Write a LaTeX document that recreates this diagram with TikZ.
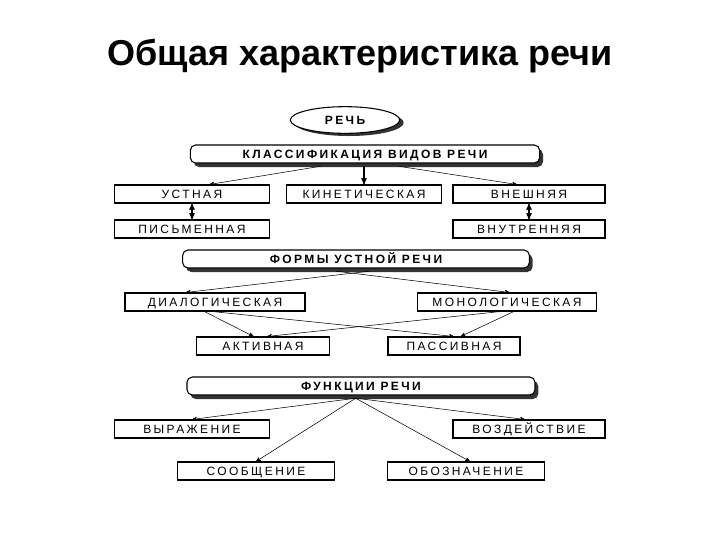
\documentclass[tikz,border=0pt]{standalone}
\usepackage{fontspec}
\setmainfont{Liberation Sans}
\usetikzlibrary{arrows,shapes,shadows}
\newfontfamily\boxfont[LetterSpace=20]{Liberation Sans}
\tikzstyle{obox}=[rectangle,draw=black,thick,minimum width=116pt,minimum height=13.5pt,inner sep=1pt,text height=6.5pt,text depth=0.5pt,font=\boxfont\fontsize{9}{10}\selectfont]
\tikzstyle{hbox}=[rectangle,rounded corners=4pt,draw=black,thick,fill=white,minimum height=13.5pt,inner sep=1pt,text height=6.5pt,text depth=0.5pt,font=\boxfont\bfseries\fontsize{9}{10}\selectfont,drop shadow={shadow xshift=2.5pt,shadow yshift=-3pt,fill=black!80,opacity=1}]
\tikzstyle{dgraph}=[->,>=stealth',thin]

\begin{document}
\begin{tikzpicture}[x=0.75pt,y=-0.75pt,dgraph]
\useasboundingbox (0,0) rectangle (720,540);
\node[font=\bfseries\fontsize{27}{30}\selectfont] (title) at (360,56) {Общая характеристика речи};
\node[ellipse,draw=black,thick,fill=white,minimum width=82pt,minimum height=20pt,text height=6.5pt,text depth=0.5pt,font=\boxfont\bfseries\fontsize{9}{10}\selectfont,drop shadow={shadow xshift=3pt,shadow yshift=-2pt,fill=black!80,opacity=1}] (rech) at (345,120) {РЕЧЬ};
\node[hbox,minimum width=262pt] (klass) at (365,154) {КЛАССИФИКАЦИЯ ВИДОВ РЕЧИ};
\node[obox] (ustn) at (192,194) {УСТНАЯ};
\node[obox] (kinet) at (364,194) {КИНЕТИЧЕСКАЯ};
\node[obox,minimum width=114pt] (vnesh) at (529,194) {ВНЕШНЯЯ};
\node[obox] (pism) at (192,229) {ПИСЬМЕННАЯ};
\node[obox,minimum width=114pt] (vnutr) at (529,229) {ВНУТРЕННЯЯ};
\node[hbox,minimum width=260pt] (formy) at (356,259) {ФОРМЫ УСТНОЙ РЕЧИ};
\node[obox,minimum width=135pt] (dial) at (215,302) {ДИАЛОГИЧЕСКАЯ};
\node[obox,minimum width=134pt] (monol) at (507,302) {МОНОЛОГИЧЕСКАЯ};
\node[obox,minimum width=100pt] (aktiv) at (263,346) {АКТИВНАЯ};
\node[obox,minimum width=99pt] (passiv) at (454,346) {ПАССИВНАЯ};
\node[hbox,minimum width=261pt] (funk) at (361,386) {ФУНКЦИИ РЕЧИ};
\node[obox] (vyr) at (192,429) {ВЫРАЖЕНИЕ};
\node[obox,minimum width=114pt] (vozd) at (529,429) {ВОЗДЕЙСТВИЕ};
\node[obox,minimum width=118pt] (soob) at (256,471) {СООБЩЕНИЕ};
\node[obox,minimum width=118pt] (oboz) at (466,471) {ОБОЗНАЧЕНИЕ};
% classification
\draw ([xshift=-33pt,yshift=-2pt]klass.south) -- ([xshift=13pt]ustn.north);
\draw[thick] ([yshift=-2pt]kinet.north |- klass.south) -- (kinet.north);
\draw ([xshift=25pt,yshift=-2pt]klass.south) -- ([xshift=-9pt]vnesh.north);
\draw[<->,thick] (ustn) -- (pism);
\draw[<->,thick] (vnesh) -- (vnutr);
% forms
\draw ([xshift=10pt,yshift=-2pt]formy.south) -- ([xshift=-22pt]dial.north);
\draw ([xshift=-15pt,yshift=-2pt]formy.south) -- ([xshift=2pt]monol.north);
\draw ([xshift=-8pt]dial.south) -- ([xshift=-7pt]aktiv.north);
\draw ([xshift=-2pt]dial.south) -- (passiv.north);
\draw ([xshift=-5pt]monol.south) -- ([xshift=3pt]aktiv.north);
\draw ([xshift=5pt]monol.south) -- ([xshift=5pt]passiv.north);
% functions
\draw ([xshift=-4pt,yshift=-2pt]funk.south) -- (vyr.north);
\draw ([xshift=-4pt,yshift=-2pt]funk.south) -- ([xshift=-3pt]vozd.north);
\draw ([xshift=-4pt,yshift=-2pt]funk.south) -- (soob.north);
\draw ([xshift=-4pt,yshift=-2pt]funk.south) -- ([xshift=3pt]oboz.north);
\end{tikzpicture}
\end{document}
